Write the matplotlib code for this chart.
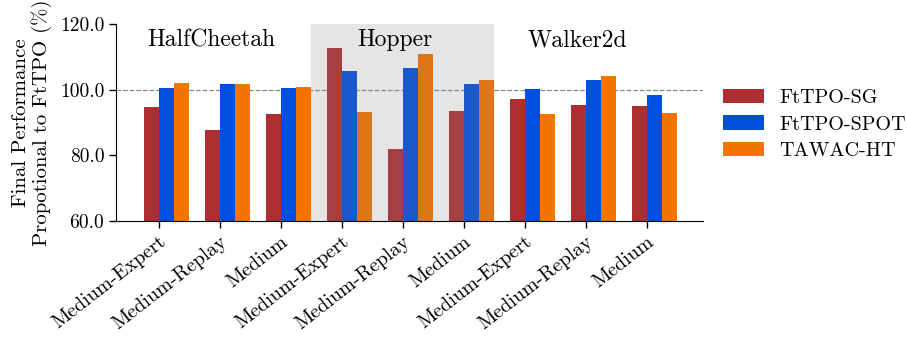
import matplotlib
matplotlib.use('Agg')
from matplotlib import pyplot as plt
import numpy as np

plt.rcParams['font.family'] = 'serif'
plt.rcParams['font.serif'] = ['cmr10']
plt.rcParams['axes.unicode_minus'] = False
plt.rcParams['mathtext.fontset'] = 'cm'

tasks = ['Medium-Expert', 'Medium-Replay', 'Medium'] * 3
envs = ['HalfCheetah', 'Hopper', 'Walker2d']
methods = ['FtTPO-SG', 'FtTPO-SPOT', 'TAWAC-HT']
colors = ['#ad2f33', '#0050e0', '#f47400']

sg = [94.7, 87.7, 92.6, 112.7, 81.9, 93.5, 97.1, 95.3, 95.0]
spot = [100.5, 101.7, 100.5, 105.7, 106.6, 101.7, 100.1, 102.9, 98.3]
tawac = [102.0, 101.7, 100.8, 93.2, 110.9, 102.9, 92.6, 104.1, 92.9]
scores = [sg, spot, tawac]

fig = plt.figure(figsize=(9.07, 3.39), dpi=100)
ax = fig.add_axes([0.128, 0.348, 0.647, 0.581])

x = np.arange(len(tasks))
w = 0.25
for i in range(3):
    ax.bar(x + (i - 1) * w, scores[i], w, align='edge', color=colors[i],
           label=methods[i], zorder=2)

ax.axhline(100, color='#888888', linestyle='--', linewidth=0.9, zorder=1)
# shade the Hopper block, drawn over its bars
ax.axvspan(2.5, 5.5, color='gray', alpha=0.2, linewidth=0, zorder=3)

for j, name in enumerate(envs):
    ax.text(3 * j + 0.87, 113.2, name, ha='center', va='baseline', fontsize=17)

ax.set_ylim(60, 120)
ax.set_xlim(-0.70, 8.92)
ax.set_yticks([60, 80, 100, 120])
ax.set_yticklabels(['60.0', '80.0', '100.0', '120.0'], fontsize=14)
ax.set_xticks(x)
ax.set_xticklabels(tasks, rotation=38, ha='right', rotation_mode='anchor', fontsize=14.5)
ax.set_ylabel('Final Performance\nPropotional to FtTPO (%)', fontsize=15, linespacing=1.05,
              labelpad=6)
ax.spines['top'].set_visible(False)
ax.spines['right'].set_visible(False)
ax.tick_params(length=5, width=1)

ax.legend(loc='center left', bbox_to_anchor=(1.003, 0.49), frameon=False,
          fontsize=14.5, handlelength=2.04, handleheight=0.7, handletextpad=0.75,
          labelspacing=0.42)

fig.savefig('out.png', dpi=100)
